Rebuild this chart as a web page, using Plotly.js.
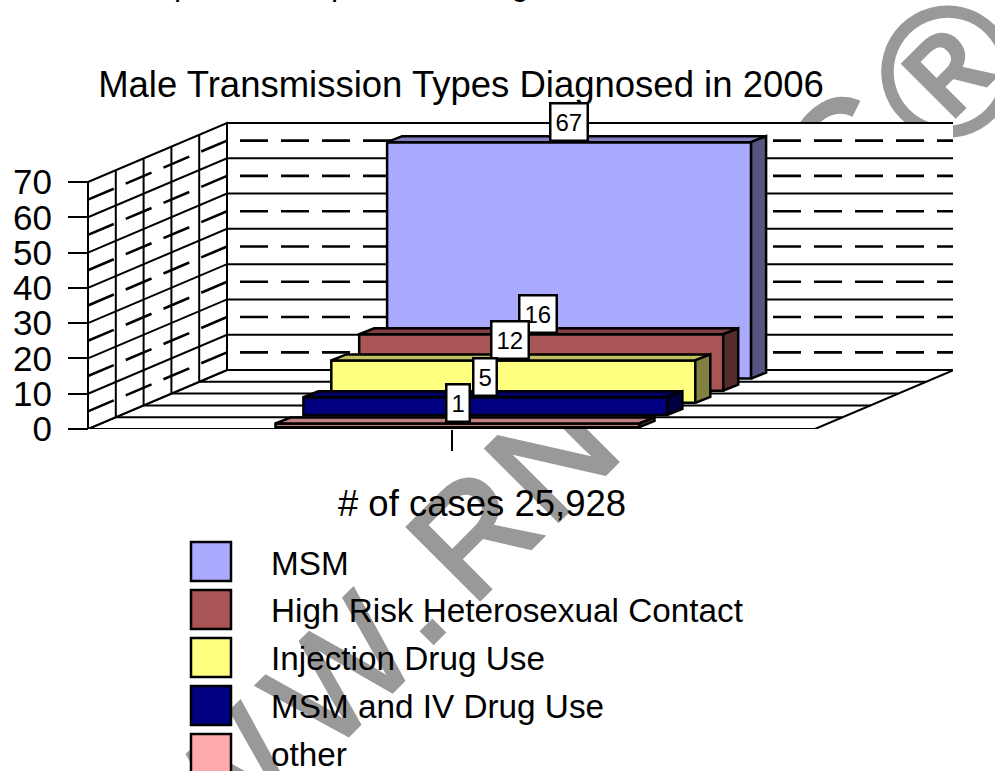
<!DOCTYPE html>
<html>
<head>
<meta charset="utf-8">
<script src="https://cdn.plot.ly/plotly-3.0.1.min.js"></script>
<style>
html,body{margin:0;padding:0;background:#fff;overflow:hidden}
#wm{position:absolute;left:0;top:0;z-index:0}
#wm text{font-family:"Liberation Sans";fill:#999;stroke:#999;stroke-width:4px;stroke-linejoin:miter;font-size:148px}
#wm text.w{stroke-width:2px}
</style>
</head>
<body>
<svg id="wm" width="995" height="771">
<text class="w" x="101" y="984" transform="rotate(-45 101 984)">W</text>
<text class="w" x="214" y="871" transform="rotate(-45 214 871)">W</text>
<text class="w" x="327" y="758" transform="rotate(-45 327 758)">W</text>
<text x="424" y="652" transform="rotate(-45 424 652)">.</text>
<text x="471.5" y="607.5" transform="rotate(-45 471.5 607.5)">R</text>
<text x="550" y="529" transform="rotate(-45 550 529)">N</text>
<text x="842" y="228" transform="rotate(-45 842 228)">C</text>
<text x="946" y="135" style="font-size:182px" text-anchor="middle" transform="rotate(-45 946 70)">®</text>
</svg>
<div id="chart" style="position:absolute;left:0;top:0;width:995px;height:771px;z-index:1"></div>
<script>
const chartTitle = "Male Transmission Types Diagnosed in 2006";
const xTitle = "# of cases 25,928";
const categories = ["MSM", "High Risk Heterosexual Contact", "Injection Drug Use", "MSM and IV Drug Use", "other"];
const values = [67, 16, 12, 5, 1];
const frontColors = ["#AAAAFF", "#AA5555", "#FFFF80", "#000080", "#FFAAAA"];
const topColors = ["#8080C0", "#804040", "#C0C060", "#000060", "#C08080"];
const sideColors = ["#555580", "#552B2B", "#808040", "#000040", "#805555"];
const yTicks = [0, 10, 20, 30, 40, 50, 60, 70];
const yMinor = [5, 15, 25, 35, 45, 55, 65];

const W = 995, H = 771;
const unit = 247 / 70;
const L = 88, R = 815, DX = 139, DY = 59 / unit;
const FONT = "Liberation Sans";
const FS = 36.5, LEGFS = 33.3;
const px = p => p / W, py = p => 1 - p / H;
const traces = [];
function poly(xs, ys, fill, z, w) {
  traces.push({type: "scatter", mode: "lines", x: xs, y: ys, fill: "toself", fillcolor: fill,
    line: {color: "#000", width: w === undefined ? 2 : w}, zorder: z, hoverinfo: "skip", cliponaxis: false, showlegend: false});
}
function line(xs, ys, w, dash) {
  traces.push({type: "scatter", mode: "lines", x: xs, y: ys, line: {color: "#000", width: w, dash: dash || "solid"},
    zorder: -1, hoverinfo: "skip", cliponaxis: false, showlegend: false});
}
const top0 = yTicks[yTicks.length - 1];
poly([L, R, R + DX, L + DX, L], [0, 0, DY, DY, 0], "#fff", -2);
poly([L, L, L + DX, L + DX, L], [0, top0, top0 + DY, DY, 0], "#fff", -2);
poly([L + DX, L + DX, R + DX, R + DX, L + DX], [DY, top0 + DY, top0 + DY, DY, DY], "#fff", -2);
yTicks.slice(1, -1).forEach(v => line([L, L + DX, R + DX], [v, v + DY, v + DY], 2));
yMinor.forEach(v => line([L, L + DX, R + DX + 2], [v, v + DY, v + DY], 2.6, "28px,13px"));
[1, 2, 3, 4].forEach(k => {
  const f = k / 5;
  line([L + DX * f, L + DX * f], [DY * f, top0 + DY * f], 2);
  line([L + DX * f, R + DX * f], [DY * f, DY * f], 2);
});

const annotations = [];
const dBarX = 15, dBarY = 6 / unit;
categories.forEach((name, i) => {
  const k = categories.length - 1 - i;
  const z = i + 1;
  const cx = 457.5 + 27.9 * k, hw = 182;
  const base = (2 + 12.1 * k) / unit;
  const v = values[i], t = base + v;
  traces.push({type: "bar", name: name, x: [cx], y: [v], base: [base], width: [hw * 2], zorder: z,
    marker: {color: frontColors[i], line: {color: "#000", width: 2.5}}, hoverinfo: "skip", showlegend: false, cliponaxis: false});
  poly([cx - hw, cx - hw + dBarX, cx + hw + dBarX, cx + hw, cx - hw], [t, t + dBarY, t + dBarY, t, t], topColors[i], z, 2.5);
  poly([cx + hw, cx + hw + dBarX, cx + hw + dBarX, cx + hw, cx + hw], [base, base + dBarY, t + dBarY, t, base], sideColors[i], z, 2.5);
  annotations.push({x: cx, y: t, xref: "x", yref: "y", yanchor: "bottom", xanchor: "center", showarrow: false,
    xshift: (i === 1 || i === 2) ? -3 : 0,
    text: String(v), font: {family: FONT, size: 24, color: "#000"}, bgcolor: "#fff", bordercolor: "#000", borderwidth: 2.5, borderpad: 4});
});

const shapes = [];
categories.forEach((name, i) => {
  const top = 542 + 48 * i;
  shapes.push({type: "rect", xref: "paper", yref: "paper", x0: px(191), x1: px(231), y0: py(top), y1: py(top + 39),
    fillcolor: frontColors[i], line: {color: "#000", width: 2.5}});
  annotations.push({xref: "paper", yref: "paper", x: px(269), y: py(563 + 47.9 * i), xanchor: "left", yanchor: "middle",
    showarrow: false, text: name, font: {family: FONT, size: LEGFS, color: "#000"}});
});
[[183, "p"], [340, "p"], [520, "g"]].forEach(a => annotations.push({xref: "paper", yref: "paper", x: px(a[0]), y: py(-3),
  xanchor: "center", yanchor: "bottom", yshift: -7, showarrow: false, text: a[1], font: {family: FONT, size: 32, color: "#000"}}));

const layout = {
  width: W, height: H, margin: {l: 0, r: 0, t: 0, b: 0}, showlegend: false, barmode: "overlay",
  paper_bgcolor: "rgba(0,0,0,0)", plot_bgcolor: "rgba(0,0,0,0)",
  font: {family: FONT, color: "#000", size: FS},
  title: {text: chartTitle, x: px(461), xref: "paper", xanchor: "center", y: py(84), yref: "paper", yanchor: "middle", font: {family: FONT, size: FS}},
  xaxis: {domain: [px(11), px(953)], range: [11, 953], showgrid: false, zeroline: false, showline: false,
    tickvals: [451.5], ticktext: [""], ticks: "outside", ticklen: 21, tickwidth: 2, tickcolor: "#000",
    title: {text: xTitle, standoff: 33, font: {family: FONT, size: FS}}, automargin: false, fixedrange: true},
  yaxis: {domain: [py(429), py(111.4)], range: [0, 90], anchor: "free", position: px(88), showgrid: false, zeroline: false, showline: false,
    tickvals: yTicks, ticks: "outside", ticklen: 20, tickwidth: 2, tickcolor: "#000", ticklabelstandoff: 9,
    tickfont: {family: FONT, size: 35}, automargin: false, fixedrange: true},
  shapes: shapes, annotations: annotations
};
Plotly.newPlot("chart", traces, layout, {displayModeBar: false, staticPlot: true});
</script>
</body>
</html>
